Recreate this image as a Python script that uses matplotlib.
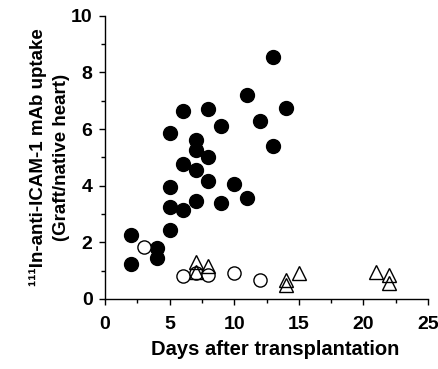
import matplotlib
matplotlib.use("Agg")

import matplotlib.pyplot as plt
from matplotlib.ticker import MultipleLocator

plt.rcParams["font.family"] = ["Liberation Sans", "DejaVu Sans"]
plt.rcParams["font.weight"] = "bold"

# rejecting grafts (filled circles)
rej_day = [2, 2, 4, 4, 5, 5, 5, 5, 6, 6, 6, 7, 7, 7, 7, 8, 8, 8, 9, 9, 10, 11, 11, 12, 13, 13, 14]
rej_uptake = [2.25, 1.25, 1.8, 1.45, 5.85, 3.95, 3.25, 2.45, 6.65, 4.75, 3.15, 5.6, 5.25, 4.55, 3.45,
              6.7, 5.0, 4.15, 6.1, 3.4, 4.05, 7.2, 3.55, 6.3, 8.55, 5.4, 6.75]

# isografts (open circles)
iso_day = [3, 6, 7, 8, 10, 12]
iso_uptake = [1.85, 0.82, 0.9, 0.85, 0.9, 0.65]

# treated allografts (open triangles)
trt_day = [7, 7, 8, 14, 14, 15, 21, 22, 22]
trt_uptake = [1.3, 0.95, 1.15, 0.68, 0.5, 0.92, 0.95, 0.85, 0.55]

fig = plt.figure(figsize=(4.38, 3.69), dpi=100)
ax = fig.add_axes([0.240, 0.190, 0.737, 0.767])

ax.plot(rej_day, rej_uptake, "o", color="black", markersize=10, linestyle="none", clip_on=False)
ax.plot(iso_day, iso_uptake, "o", markerfacecolor="white", markeredgecolor="black",
        markeredgewidth=1.0, markersize=9.5, linestyle="none", clip_on=False)
ax.plot(trt_day, trt_uptake, "^", markerfacecolor="none", markeredgecolor="black",
        markeredgewidth=1.0, markersize=9.5, linestyle="none", clip_on=False)

ax.set_xlim(0, 25)
ax.set_ylim(0, 10)
ax.xaxis.set_major_locator(MultipleLocator(5))
ax.xaxis.set_minor_locator(MultipleLocator(2.5))
ax.yaxis.set_major_locator(MultipleLocator(2))
ax.yaxis.set_minor_locator(MultipleLocator(1))
ax.tick_params(which="both", direction="out", width=1.0, labelsize=14)
ax.tick_params(which="major", length=4)
ax.tick_params(which="minor", length=3)
ax.tick_params(axis="x", which="major", pad=8)
ax.tick_params(axis="y", which="major", pad=5)
for lab in ax.get_xticklabels() + ax.get_yticklabels():
    lab.set_fontweight("bold")

for side in ["top", "right"]:
    ax.spines[side].set_visible(False)
for side in ["left", "bottom"]:
    ax.spines[side].set_linewidth(1.0)

ax.set_xlabel("Days after transplantation", fontsize=14.5, fontweight="bold")
ax.xaxis.set_label_coords(0.527, -0.145)
ax.set_ylabel("¹¹¹In-anti-ICAM-1 mAb uptake\n(Graft/native heart)", fontsize=13.5,
              fontweight="bold", labelpad=1, linespacing=1.45)

fig.savefig("out.png", dpi=100)
